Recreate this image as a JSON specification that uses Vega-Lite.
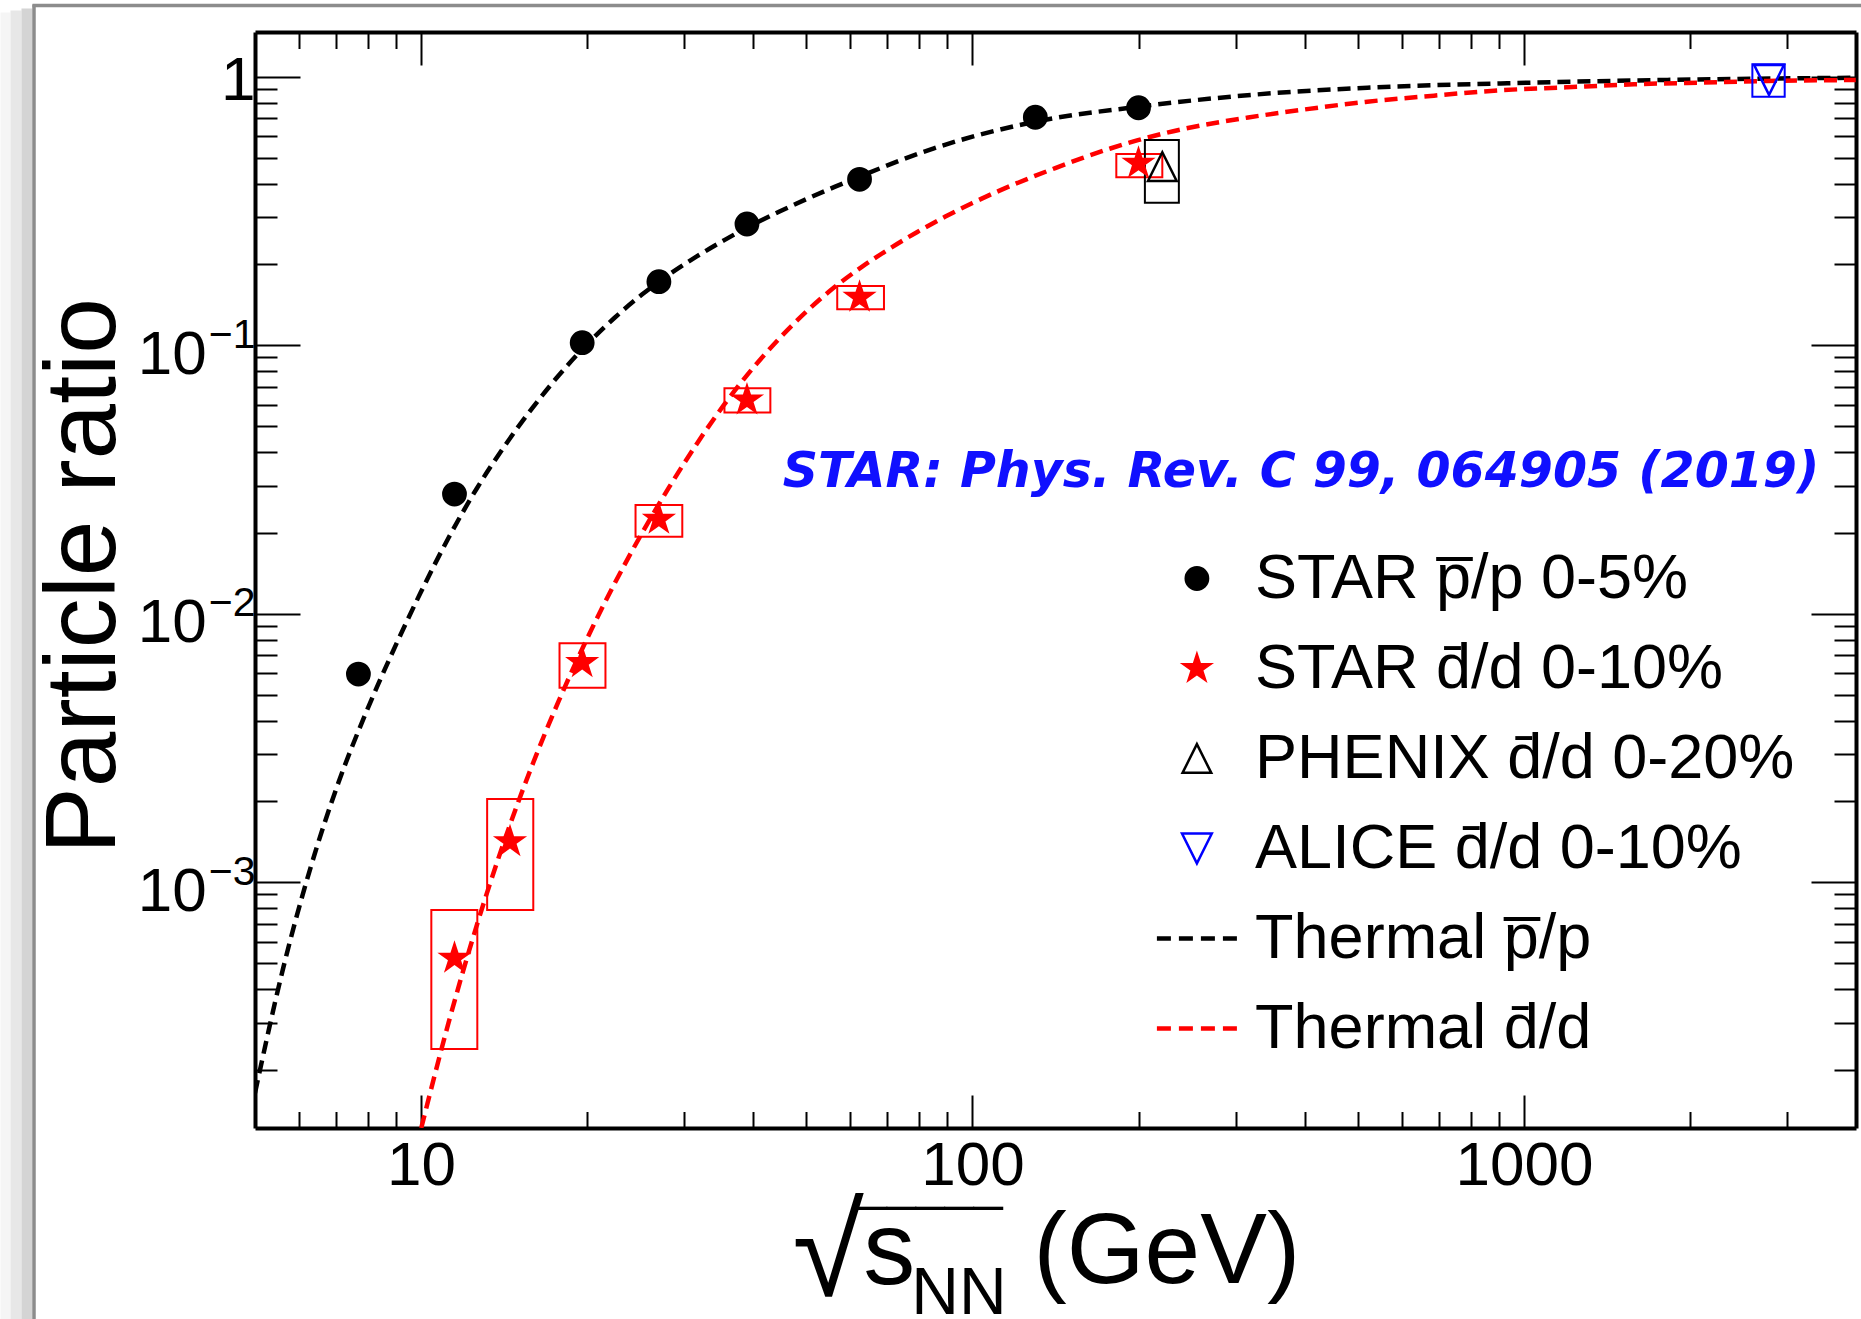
{
  "$schema": "https://vega.github.io/schema/vega-lite/v6.json",
  "width": 1601,
  "height": 1096,
  "autosize": {"type": "none"},
  "padding": {"left": 255, "top": 32, "right": 5, "bottom": 191},
  "background": "white",
  "config": {"view": {"stroke": null}, "axis": {"grid": false}, "font": "Liberation Sans"},
  "datasets": {
    "thermal_pp": [
      {"energy": 5.0, "ratio": 0.0001641}, {"energy": 5.623, "ratio": 0.0004775}, {"energy": 6.31, "ratio": 0.001139},
      {"energy": 7.079, "ratio": 0.002339}, {"energy": 7.943, "ratio": 0.004268}, {"energy": 8.913, "ratio": 0.007311},
      {"energy": 10.0, "ratio": 0.01206}, {"energy": 11.22, "ratio": 0.01918}, {"energy": 12.59, "ratio": 0.02902},
      {"energy": 14.13, "ratio": 0.04171}, {"energy": 15.85, "ratio": 0.05768}, {"energy": 17.78, "ratio": 0.07727},
      {"energy": 19.95, "ratio": 0.1002}, {"energy": 22.39, "ratio": 0.126}, {"energy": 25.12, "ratio": 0.154},
      {"energy": 28.18, "ratio": 0.1834}, {"energy": 31.62, "ratio": 0.2141}, {"energy": 35.48, "ratio": 0.2463},
      {"energy": 39.81, "ratio": 0.2799}, {"energy": 44.67, "ratio": 0.3146}, {"energy": 50.12, "ratio": 0.3508},
      {"energy": 56.23, "ratio": 0.3886}, {"energy": 62.4, "ratio": 0.4246}, {"energy": 85.11, "ratio": 0.5408},
      {"energy": 130, "ratio": 0.68}, {"energy": 200, "ratio": 0.7731}, {"energy": 319.4, "ratio": 0.855},
      {"energy": 520, "ratio": 0.91}, {"energy": 907.3, "ratio": 0.944}, {"energy": 1820, "ratio": 0.9727},
      {"energy": 3996, "ratio": 0.9908}
    ],
    "thermal_dd": [
      {"energy": 10.01, "ratio": 0.0001215}, {"energy": 11.22, "ratio": 0.0003}, {"energy": 12.59, "ratio": 0.0006793},
      {"energy": 14.13, "ratio": 0.001407}, {"energy": 15.85, "ratio": 0.002674}, {"energy": 17.78, "ratio": 0.004742},
      {"energy": 19.95, "ratio": 0.007986}, {"energy": 22.39, "ratio": 0.01284}, {"energy": 25.12, "ratio": 0.01984},
      {"energy": 28.18, "ratio": 0.02959}, {"energy": 31.62, "ratio": 0.0429}, {"energy": 35.48, "ratio": 0.06017},
      {"energy": 39.81, "ratio": 0.08128}, {"energy": 44.67, "ratio": 0.1061}, {"energy": 50.12, "ratio": 0.1341},
      {"energy": 56.23, "ratio": 0.1646}, {"energy": 63.1, "ratio": 0.1961}, {"energy": 70.79, "ratio": 0.2291},
      {"energy": 79.43, "ratio": 0.2641}, {"energy": 89.13, "ratio": 0.3007}, {"energy": 100, "ratio": 0.3386},
      {"energy": 112.2, "ratio": 0.3773}, {"energy": 125.9, "ratio": 0.4166}, {"energy": 141.3, "ratio": 0.4567},
      {"energy": 158.5, "ratio": 0.4985}, {"energy": 177.8, "ratio": 0.5402}, {"energy": 199.5, "ratio": 0.5802},
      {"energy": 223.9, "ratio": 0.6171}, {"energy": 251.2, "ratio": 0.6496}, {"energy": 281.8, "ratio": 0.6785},
      {"energy": 316.2, "ratio": 0.7049}, {"energy": 393.6, "ratio": 0.7516}, {"energy": 520, "ratio": 0.807},
      {"energy": 686.7, "ratio": 0.85}, {"energy": 907.3, "ratio": 0.89}, {"energy": 1199, "ratio": 0.913},
      {"energy": 1583, "ratio": 0.937}, {"energy": 2091, "ratio": 0.95}, {"energy": 2763, "ratio": 0.964},
      {"energy": 3996, "ratio": 0.972}
    ],
    "points": [
      {"series": "STAR p\u0305/p 0-5%", "energy": 7.7, "ratio": 0.00596},
      {"series": "STAR p\u0305/p 0-5%", "energy": 11.5, "ratio": 0.0279},
      {"series": "STAR p\u0305/p 0-5%", "energy": 19.6, "ratio": 0.1022},
      {"series": "STAR p\u0305/p 0-5%", "energy": 27, "ratio": 0.1724},
      {"series": "STAR p\u0305/p 0-5%", "energy": 39, "ratio": 0.2828},
      {"series": "STAR p\u0305/p 0-5%", "energy": 62.4, "ratio": 0.4148},
      {"series": "STAR p\u0305/p 0-5%", "energy": 130, "ratio": 0.706},
      {"series": "STAR p\u0305/p 0-5%", "energy": 200, "ratio": 0.766},
      {"series": "STAR d\u0304/d 0-10%", "energy": 11.5, "ratio": 0.000521},
      {"series": "STAR d\u0304/d 0-10%", "energy": 14.5, "ratio": 0.001415},
      {"series": "STAR d\u0304/d 0-10%", "energy": 19.6, "ratio": 0.00657},
      {"series": "STAR d\u0304/d 0-10%", "energy": 27, "ratio": 0.02247},
      {"series": "STAR d\u0304/d 0-10%", "energy": 39, "ratio": 0.0625},
      {"series": "STAR d\u0304/d 0-10%", "energy": 62.4, "ratio": 0.1508},
      {"series": "STAR d\u0304/d 0-10%", "energy": 200, "ratio": 0.476},
      {"series": "PHENIX d\u0304/d 0-20%", "energy": 220.9, "ratio": 0.4623},
      {"series": "ALICE d\u0304/d 0-10%", "energy": 2782, "ratio": 0.972}
    ],
    "boxes": [
      {"series": "STAR d\u0304/d 0-10%", "elo": 10.44, "ehi": 12.65, "rlo": 0.000239, "rhi": 0.000788},
      {"series": "STAR d\u0304/d 0-10%", "elo": 13.18, "ehi": 15.98, "rlo": 0.000788, "rhi": 0.00204},
      {"series": "STAR d\u0304/d 0-10%", "elo": 17.83, "ehi": 21.6, "rlo": 0.0053, "rhi": 0.00776},
      {"series": "STAR d\u0304/d 0-10%", "elo": 24.49, "ehi": 29.77, "rlo": 0.01935, "rhi": 0.0254},
      {"series": "STAR d\u0304/d 0-10%", "elo": 35.5, "ehi": 43.0, "rlo": 0.0561, "rhi": 0.0691},
      {"series": "STAR d\u0304/d 0-10%", "elo": 56.85, "ehi": 69.1, "rlo": 0.1361, "rhi": 0.1661},
      {"series": "STAR d\u0304/d 0-10%", "elo": 182.3, "ehi": 220.9, "rlo": 0.422, "rhi": 0.5153},
      {"series": "PHENIX d\u0304/d 0-20%", "elo": 205.4, "ehi": 236.7, "rlo": 0.3394, "rhi": 0.581},
      {"series": "ALICE d\u0304/d 0-10%", "elo": 2595, "ehi": 2970, "rlo": 0.842, "rhi": 1.112}
    ]
  },
  "resolve": {"scale": {"x": "independent", "y": "independent"}, "axis": {"x": "independent", "y": "independent"}},
  "layer": [
    {
      "data": {"values": []},
      "mark": {"type": "point", "opacity": 0},
      "encoding": {
        "y": {"field": "ratio", "type": "quantitative", "scale": {"type": "linear", "domain": [0, 1], "range": [1287, -20], "nice": false, "zero": false},
          "axis": {"orient": "left", "offset": 250, "domain": true, "domainColor": "#f5f5f5", "domainWidth": 10, "ticks": false, "labels": false, "grid": false, "title": null}}
      }
    },
    {
      "data": {"values": []},
      "mark": {"type": "point", "opacity": 0},
      "encoding": {
        "y": {"field": "ratio", "type": "quantitative", "scale": {"type": "linear", "domain": [0, 1], "range": [1287, -22], "nice": false, "zero": false},
          "axis": {"orient": "left", "offset": 239.5, "domain": true, "domainColor": "#e7e7e7", "domainWidth": 11, "ticks": false, "labels": false, "grid": false, "title": null}}
      }
    },
    {
      "data": {"values": []},
      "mark": {"type": "point", "opacity": 0},
      "encoding": {
        "y": {"field": "ratio", "type": "quantitative", "scale": {"type": "linear", "domain": [0, 1], "range": [1287, -24], "nice": false, "zero": false},
          "axis": {"orient": "left", "offset": 228.6, "domain": true, "domainColor": "#d4d4d4", "domainWidth": 10.8, "ticks": false, "labels": false, "grid": false, "title": null}}
      }
    },
    {
      "data": {"values": []},
      "mark": {"type": "point", "opacity": 0},
      "encoding": {
        "x": {"field": "energy", "type": "quantitative", "scale": {"type": "linear", "domain": [0, 1], "range": [-223, 1606], "nice": false, "zero": false},
          "axis": {"orient": "top", "offset": 27, "domain": true, "domainColor": "#8c8c8c", "domainWidth": 3.5, "ticks": false, "labels": false, "grid": false, "title": null}},
        "y": {"field": "ratio", "type": "quantitative", "scale": {"type": "linear", "domain": [0, 1], "range": [1287, -28], "nice": false, "zero": false},
          "axis": {"orient": "left", "offset": 221.5, "domain": true, "domainColor": "#8c8c8c", "domainWidth": 3.5, "ticks": false, "labels": false, "grid": false, "title": null}}
      }
    },
    {
      "data": {"name": "thermal_pp"},
      "mark": {"type": "line", "stroke": "#000000", "strokeWidth": 4.5, "strokeDash": [13, 7], "interpolate": "monotone", "clip": true},
      "encoding": {
        "x": {"field": "energy", "type": "quantitative", "scale": {"type": "log", "domain": [5, 4000], "nice": false},
          "axis": {"orient": "bottom", "values": [10, 100, 1000], "format": "d", "labelFont": "Liberation Sans", "labelFontSize": 62, "labelColor": "#000000", "labelBaseline": "top", "labelAlign": "center", "labelPadding": 40.4, "labelFlush": false, "labelOverlap": false, "ticks": true, "tickSize": -33, "tickWidth": 2, "tickColor": "#000000", "domain": true, "domainColor": "#000000", "domainWidth": 4, "grid": false,
            "title": "s", "titleFont": "Liberation Sans", "titleFontSize": 104, "titleFontWeight": "normal", "titleColor": "#000000", "titleX": 607.7, "titleY": 155, "titleAlign": "left", "titleBaseline": "alphabetic", "titleAngle": 0}},
        "y": {"field": "ratio", "type": "quantitative", "scale": {"type": "log", "domain": [0.0001215, 1.467], "nice": false},
          "axis": {"orient": "left", "values": [0.001, 0.01, 0.1, 1], "labelExpr": "datum.value > 0.5 ? '' : '10'", "labelFont": "Liberation Sans", "labelFontSize": 62, "labelColor": "#000000", "labelAlign": "right", "labelBaseline": "alphabetic", "labelOffset": 28, "labelPadding": 93.7, "labelOverlap": false, "labelFlush": false, "ticks": true, "tickSize": -45, "tickWidth": 2, "tickColor": "#000000", "domain": true, "domainColor": "#000000", "domainWidth": 4, "grid": false,
            "title": "Particle ratio", "titleFont": "Liberation Sans", "titleFontSize": 100, "titleFontWeight": "normal", "titleColor": "#000000", "titleX": -140.5, "titleY": 543.6, "titleAngle": 270, "titleAlign": "center", "titleBaseline": "alphabetic"}}
      }
    },
    {
      "data": {"name": "thermal_dd"},
      "mark": {"type": "line", "stroke": "#ff0000", "strokeWidth": 4.5, "strokeDash": [13, 7], "interpolate": "monotone", "clip": true},
      "encoding": {
        "x": {"field": "energy", "type": "quantitative", "scale": {"type": "log", "domain": [5, 4000], "nice": false},
          "axis": {"orient": "bottom", "values": [6, 7, 8, 9, 20, 30, 40, 50, 60, 70, 80, 90, 200, 300, 400, 500, 600, 700, 800, 900, 2000, 3000], "labels": false, "ticks": true, "tickSize": -16.5, "tickWidth": 2, "tickColor": "#000000", "domain": false, "grid": false,
            "title": "NN", "titleFont": "Liberation Sans", "titleFontSize": 66, "titleFontWeight": "normal", "titleColor": "#000000", "titleX": 655.8, "titleY": 185, "titleAlign": "left", "titleBaseline": "alphabetic", "titleAngle": 0}},
        "y": {"field": "ratio", "type": "quantitative", "scale": {"type": "log", "domain": [0.0001215, 1.467], "nice": false},
          "axis": {"orient": "left", "values": [0.001, 0.01, 0.1, 1], "labelExpr": "datum.value > 0.5 ? '1' : datum.value > 0.05 ? '\u22121' : datum.value > 0.005 ? '\u22122' : '\u22123'", "labelFont": "Liberation Sans", "labelFontSize": {"condition": {"test": "datum.value > 0.5", "value": 62}, "value": 41}, "labelOffset": {"condition": {"test": "datum.value > 0.5", "value": 23}, "value": 2}, "labelColor": "#000000", "labelAlign": "right", "labelBaseline": "alphabetic", "labelPadding": 0, "labelOverlap": false, "labelFlush": false, "ticks": false, "tickSize": 0, "domain": false, "grid": false, "title": null}}
      }
    },
    {
      "data": {"name": "boxes"},
      "mark": {"type": "rect", "filled": false, "strokeWidth": 2, "clip": true},
      "encoding": {
        "x": {"field": "elo", "type": "quantitative", "scale": {"type": "log", "domain": [5, 4000], "nice": false},
          "axis": {"orient": "top", "values": [10, 100, 1000], "labels": false, "ticks": true, "tickSize": -33, "tickWidth": 2, "tickColor": "#000000", "domain": true, "domainColor": "#000000", "domainWidth": 4, "grid": false,
            "title": "\u221a", "titleFont": "Liberation Sans", "titleFontSize": 130, "titleFontWeight": "normal", "titleColor": "#000000", "titleX": 537, "titleY": 1263, "titleAlign": "left", "titleBaseline": "alphabetic", "titleAngle": 0}},
        "x2": {"field": "ehi"},
        "y": {"field": "rlo", "type": "quantitative", "scale": {"type": "log", "domain": [0.0001215, 1.467], "nice": false},
          "axis": {"orient": "left", "values": [0.0002, 0.0003, 0.0004, 0.0005, 0.0006, 0.0007, 0.0008, 0.0009, 0.002, 0.003, 0.004, 0.005, 0.006, 0.007, 0.008, 0.009, 0.02, 0.03, 0.04, 0.05, 0.06, 0.07, 0.08, 0.09, 0.2, 0.3, 0.4, 0.5, 0.6, 0.7, 0.8, 0.9], "labels": false, "ticks": true, "tickSize": -22, "tickWidth": 2, "tickColor": "#000000", "domain": false, "grid": false, "title": null}},
        "y2": {"field": "rhi"},
        "color": {"field": "series", "type": "nominal", "legend": null,
          "scale": {"domain": ["STAR d\u0304/d 0-10%", "PHENIX d\u0304/d 0-20%", "ALICE d\u0304/d 0-10%"], "range": ["#ff0000", "#000000", "#0000ff"]}}
      }
    },
    {
      "data": {"name": "points"},
      "mark": {"type": "point", "size": 616, "strokeWidth": 2.5, "opacity": 1, "clip": true},
      "encoding": {
        "x": {"field": "energy", "type": "quantitative", "scale": {"type": "log", "domain": [5, 4000], "nice": false},
          "axis": {"orient": "top", "values": [6, 7, 8, 9, 20, 30, 40, 50, 60, 70, 80, 90, 200, 300, 400, 500, 600, 700, 800, 900, 2000, 3000], "labels": false, "ticks": true, "tickSize": -16.5, "tickWidth": 2, "tickColor": "#000000", "domain": false, "grid": false,
            "title": "_____", "titleFont": "Liberation Sans", "titleFontSize": 52, "titleFontWeight": "normal", "titleColor": "#000000", "titleX": 602.5, "titleY": 1167, "titleAlign": "left", "titleBaseline": "alphabetic", "titleAngle": 0}},
        "y": {"field": "ratio", "type": "quantitative", "scale": {"type": "log", "domain": [0.0001215, 1.467], "nice": false},
          "axis": {"orient": "right", "values": [0.001, 0.01, 0.1, 1], "labels": false, "ticks": true, "tickSize": -45, "tickWidth": 2, "tickColor": "#000000", "domain": true, "domainColor": "#000000", "domainWidth": 4, "grid": false, "title": null}},
        "shape": {"field": "series", "type": "nominal",
          "scale": {"domain": ["STAR p\u0305/p 0-5%", "STAR d\u0304/d 0-10%", "PHENIX d\u0304/d 0-20%", "ALICE d\u0304/d 0-10%", "Thermal p\u0305/p", "Thermal d\u0304/d"],
            "range": ["circle",
              "M0,-1.45L0.326,-0.448L1.379,-0.448L0.527,0.171L0.852,1.173L0,0.554L-0.852,1.173L-0.527,0.171L-1.379,-0.448L-0.326,-0.448Z",
              "M0,-1.156L1.156,1.156L-1.156,1.156Z",
              "M-1.2,-1.2L1.2,-1.2L0,1.2Z",
              "M-3.223,-0.181H-2.095V0.181H-3.223ZM-1.45,-0.181H-0.322V0.181H-1.45ZM0.323,-0.181H1.451V0.181H0.323ZM2.096,-0.181H3.224V0.181H2.096Z",
              "M-3.223,-0.181H-2.095V0.181H-3.223ZM-1.45,-0.181H-0.322V0.181H-1.45ZM0.323,-0.181H1.451V0.181H0.323ZM2.096,-0.181H3.224V0.181H2.096Z"]},
          "legend": {"orient": "none", "legendX": 910.4, "legendY": 515, "title": null, "labelFont": "Liberation Sans", "labelFontSize": 63, "labelColor": "#000000", "labelLimit": 3000, "labelOffset": 26.7, "rowPadding": 26, "symbolSize": 616, "symbolStrokeWidth": 2.5, "padding": 0, "offset": 0}},
        "fill": {"field": "series", "type": "nominal",
          "scale": {"domain": ["STAR p\u0305/p 0-5%", "STAR d\u0304/d 0-10%", "PHENIX d\u0304/d 0-20%", "ALICE d\u0304/d 0-10%", "Thermal p\u0305/p", "Thermal d\u0304/d"],
            "range": ["#000000", "#ff0000", "transparent", "transparent", "#000000", "#ff0000"]},
          "legend": {"orient": "none", "legendX": 910.4, "legendY": 515, "title": null, "labelFont": "Liberation Sans", "labelFontSize": 63, "labelColor": "#000000", "labelLimit": 3000, "labelOffset": 26.7, "rowPadding": 26, "symbolSize": 616, "symbolStrokeWidth": 2.5, "padding": 0, "offset": 0}},
        "stroke": {"field": "series", "type": "nominal",
          "scale": {"domain": ["STAR p\u0305/p 0-5%", "STAR d\u0304/d 0-10%", "PHENIX d\u0304/d 0-20%", "ALICE d\u0304/d 0-10%", "Thermal p\u0305/p", "Thermal d\u0304/d"],
            "range": ["transparent", "transparent", "#000000", "#0000ff", "transparent", "transparent"]},
          "legend": {"orient": "none", "legendX": 910.4, "legendY": 515, "title": null, "labelFont": "Liberation Sans", "labelFontSize": 63, "labelColor": "#000000", "labelLimit": 3000, "labelOffset": 26.7, "rowPadding": 26, "symbolSize": 616, "symbolStrokeWidth": 2.5, "padding": 0, "offset": 0}}
      }
    },
    {
      "data": {"values": [{"label": "STAR: Phys. Rev. C 99, 064905 (2019)"}]},
      "mark": {"type": "text", "align": "right", "baseline": "alphabetic", "font": "DejaVu Sans", "fontSize": 49, "fontWeight": "bold", "fontStyle": "italic", "color": "#1010ff"},
      "encoding": {
        "x": {"datum": 3432, "type": "quantitative", "scale": {"type": "log", "domain": [5, 4000], "nice": false},
          "axis": {"orient": "bottom", "labels": false, "ticks": false, "domain": false, "grid": false,
            "title": "(GeV)", "titleFont": "Liberation Sans", "titleFontSize": 100, "titleFontWeight": "normal", "titleColor": "#000000", "titleX": 778, "titleY": 154, "titleAlign": "left", "titleBaseline": "alphabetic", "titleAngle": 0}},
        "y": {"datum": 0.0297, "type": "quantitative", "scale": {"type": "log", "domain": [0.0001215, 1.467], "nice": false},
          "axis": {"orient": "right", "values": [0.0002, 0.0003, 0.0004, 0.0005, 0.0006, 0.0007, 0.0008, 0.0009, 0.002, 0.003, 0.004, 0.005, 0.006, 0.007, 0.008, 0.009, 0.02, 0.03, 0.04, 0.05, 0.06, 0.07, 0.08, 0.09, 0.2, 0.3, 0.4, 0.5, 0.6, 0.7, 0.8, 0.9], "labels": false, "ticks": true, "tickSize": -22, "tickWidth": 2, "tickColor": "#000000", "domain": false, "grid": false, "title": null}},
        "text": {"field": "label"}
      }
    }
  ]
}
